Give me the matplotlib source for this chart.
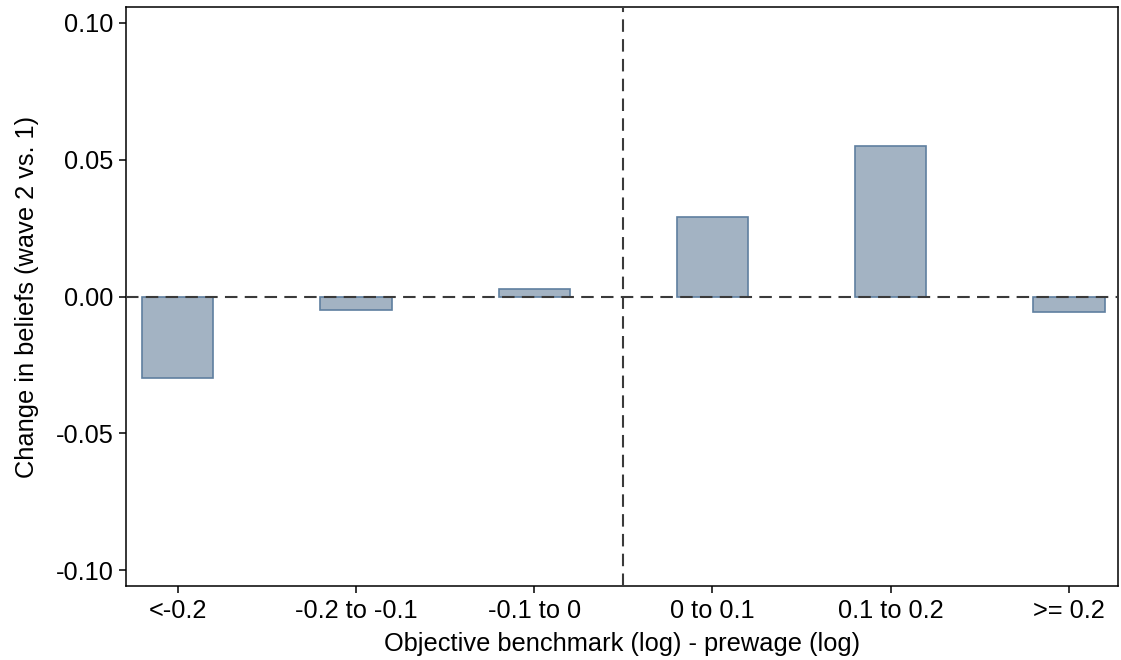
import numpy as np
import matplotlib
matplotlib.use("Agg")
import matplotlib.pyplot as plt

# ---------- 数据 ----------
categories = ["<-0.2", "-0.2 to -0.1", "-0.1 to 0", "0 to 0.1", "0.1 to 0.2", ">= 0.2"]
changes = [-0.0297, -0.0051, 0.0027, 0.0289, 0.0550, -0.0055]
yticks = [-0.10, -0.05, 0.00, 0.05, 0.10]

plt.rcParams['font.family'] = ['Liberation Sans', 'DejaVu Sans']
FS = 18.3

fig = plt.figure(figsize=(11.21, 6.6), dpi=100)
ax = fig.add_axes([126/1121, 1 - 586/660, (1118-126)/1121, (586-7)/660])

x = np.arange(len(categories))
ax.bar(x, changes, width=0.4, color='#a3b3c3', edgecolor='#5f7f9f', linewidth=1.2, zorder=2)

# ---- 参考线 ----
ax.axhline(0, color='#3a3a3a', lw=1.5, dashes=(6, 3.5), zorder=3)
ax.axvline(2.5, color='#3a3a3a', lw=1.5, dashes=(6, 3.5), zorder=3)

ax.set_xlim(-0.29, 5.275)
ax.set_ylim(-0.1058, 0.1058)
ax.set_xticks(x)
ax.set_xticklabels(categories, fontsize=FS)
ax.set_yticks(yticks)
ax.set_yticklabels([f"{v:.2f}" for v in yticks], fontsize=FS)
ax.tick_params(direction='out', length=5, width=1.1, pad=4)

ax.set_xlabel("Objective benchmark (log) - prewage (log)", fontsize=FS, labelpad=7)
ax.set_ylabel("Change in beliefs (wave 2 vs. 1)", fontsize=FS, labelpad=12)

for spine in ax.spines.values():
    spine.set_linewidth(1.1)

fig.savefig("out.png", dpi=100)
